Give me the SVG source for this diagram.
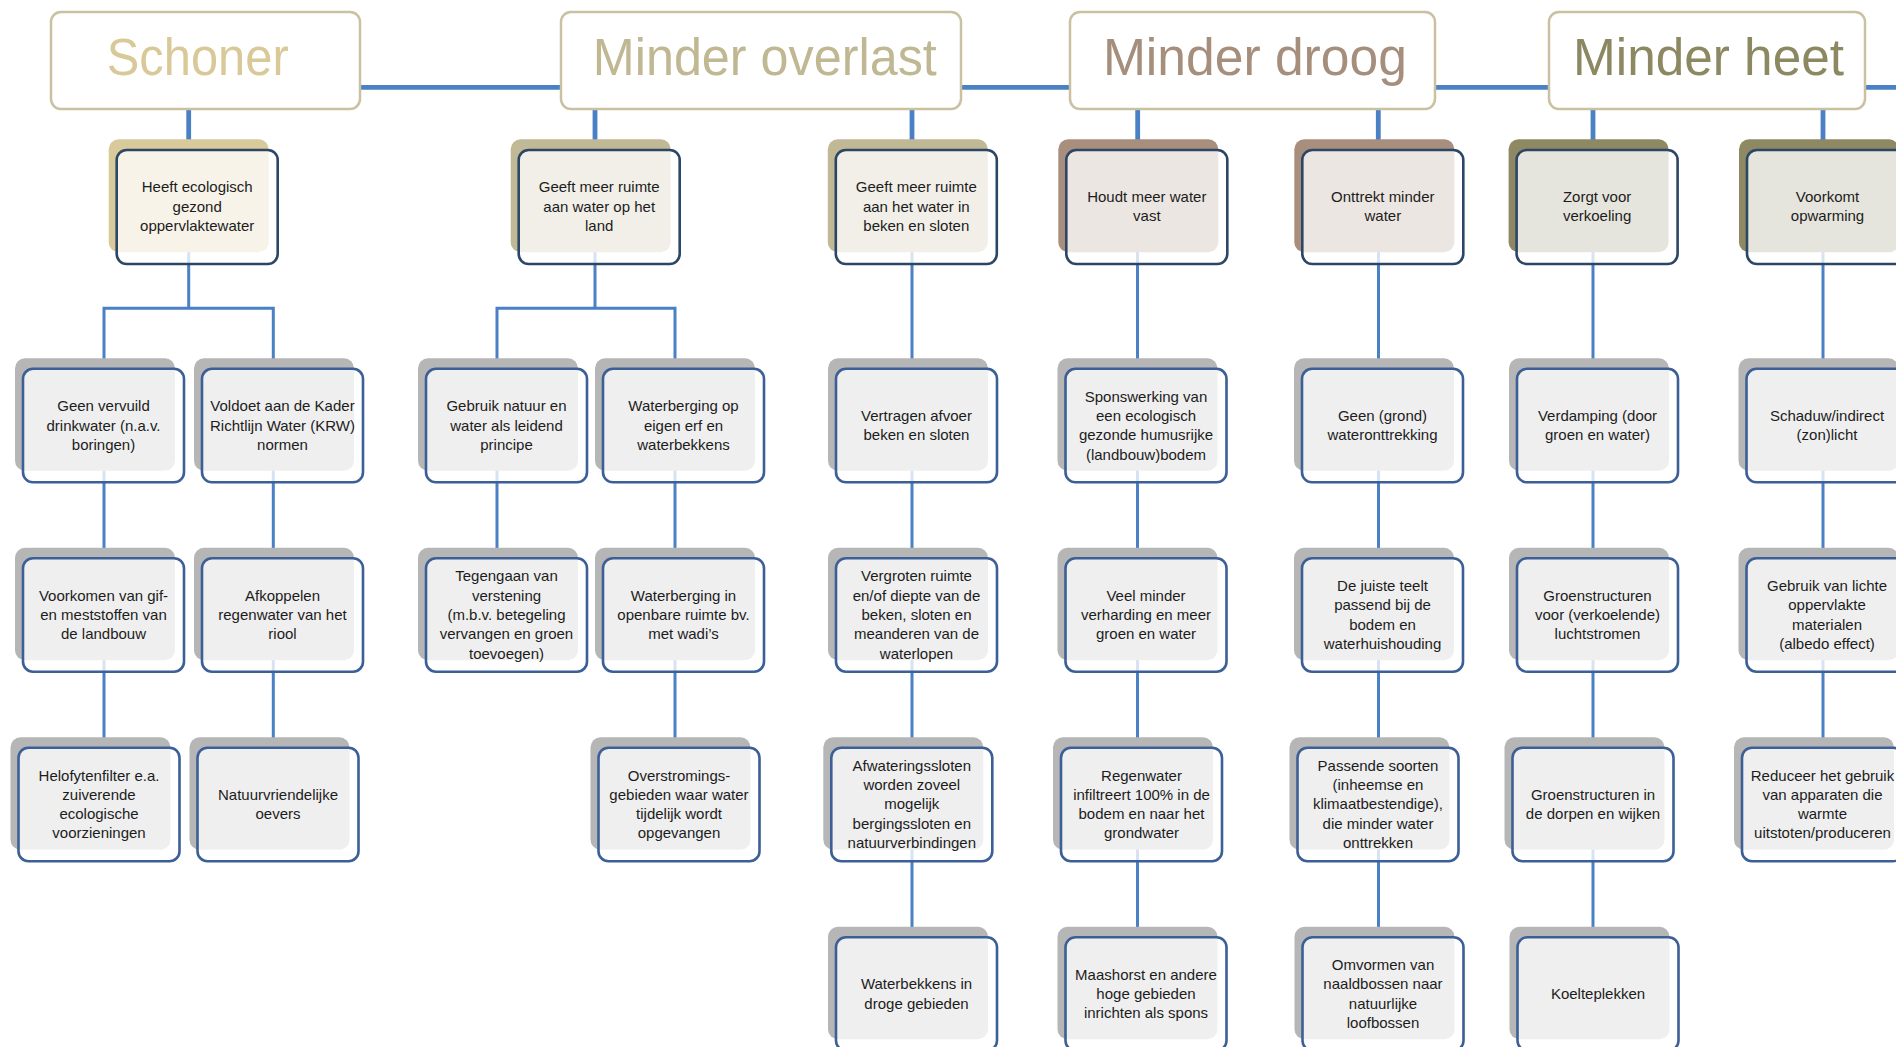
<svg xmlns="http://www.w3.org/2000/svg" width="1896" height="1047" viewBox="0 0 1896 1047">
<style>
.hdr rect{fill:#fff;stroke:#c9c1a1;stroke-width:2.5}
.hdr text{font-family:"Liberation Sans",Arial,sans-serif;font-size:51px;text-anchor:middle}
.n text{font-family:"Liberation Sans",Arial,sans-serif;font-size:15px;fill:#1c1c1c;text-anchor:middle}
.sh{fill:#b6b6b6}
.fr{fill:#fff;fill-opacity:.78;stroke:#3b5f96;stroke-width:2.6}
.l1 .fr{stroke:#2c4666}
.s-sch{fill:#d9ca9b}.s-ovl{fill:#c1b896}.s-drg{fill:#a88f7d}.s-heet{fill:#8e8963}
.conn{fill:none;stroke:#4a80c4}
.thin{stroke-width:3}
.thick{stroke-width:4.8}
</style>
<rect width="1896" height="1047" fill="#fff"/>
<g id="connectors">
<path class="conn thick" d="M300 87.3H1896M188.7 100V145M595 100V145M912 100V145M1137.7 100V145M1378.3 100V145M1593 100V145M1823 100V145"/>
<path class="conn thin" d="M104 370V308.3H273.3V370M188.7 200V308.3M497 370V308.3H675V370M595 200V308.3M104 420V800M273.3 420V800M497 420V600M675 420V800M912 200V990M1137.5 200V990M1378.5 200V990M1593 200V990M1823 200V800"/>
</g>
<g id="h-schoner" class="hdr"><rect x="51" y="12" width="309" height="97" rx="10"/><text x="197.7" y="75" fill="#d9c998" textLength="182" lengthAdjust="spacingAndGlyphs">Schoner</text></g>
<g id="h-overlast" class="hdr"><rect x="561" y="12" width="400" height="97" rx="10"/><text x="764.8" y="75" fill="#c0b793" textLength="344" lengthAdjust="spacingAndGlyphs">Minder overlast</text></g>
<g id="h-droog" class="hdr"><rect x="1070" y="12" width="365" height="97" rx="10"/><text x="1254.9" y="75" fill="#a58e7c" textLength="304" lengthAdjust="spacingAndGlyphs">Minder droog</text></g>
<g id="h-heet" class="hdr"><rect x="1549" y="12" width="316" height="97" rx="10"/><text x="1708.5" y="75" fill="#8c8862" textLength="271" lengthAdjust="spacingAndGlyphs">Minder heet</text></g>

<g id="l1-ecologisch" class="n l1" transform="translate(108.7,139.3)"><rect class="s-sch" width="160" height="113" rx="10"/><rect class="fr" x="8" y="10.7" width="161" height="114" rx="10"/><text x="88.5" y="53"><tspan x="88.5">Heeft ecologisch</tspan><tspan x="88.5" dy="19.3">gezond</tspan><tspan x="88.5" dy="19.3">oppervlaktewater</tspan></text></g>
<g id="l1-land" class="n l1" transform="translate(510.7,139.3)"><rect class="s-ovl" width="160" height="113" rx="10"/><rect class="fr" x="8" y="10.7" width="161" height="114" rx="10"/><text x="88.5" y="53"><tspan x="88.5">Geeft meer ruimte</tspan><tspan x="88.5" dy="19.3">aan water op het</tspan><tspan x="88.5" dy="19.3">land</tspan></text></g>
<g id="l1-beken" class="n l1" transform="translate(827.8,139.3)"><rect class="s-ovl" width="160" height="113" rx="10"/><rect class="fr" x="8" y="10.7" width="161" height="114" rx="10"/><text x="88.5" y="53"><tspan x="88.5">Geeft meer ruimte</tspan><tspan x="88.5" dy="19.3">aan het water in</tspan><tspan x="88.5" dy="19.3">beken en sloten</tspan></text></g>
<g id="l1-vast" class="n l1" transform="translate(1058.3,139.3)"><rect class="s-drg" width="160" height="113" rx="10"/><rect class="fr" x="8" y="10.7" width="161" height="114" rx="10"/><text x="88.5" y="62.65"><tspan x="88.5">Houdt meer water</tspan><tspan x="88.5" dy="19.3">vast</tspan></text></g>
<g id="l1-onttrekt" class="n l1" transform="translate(1294.3,139.3)"><rect class="s-drg" width="160" height="113" rx="10"/><rect class="fr" x="8" y="10.7" width="161" height="114" rx="10"/><text x="88.5" y="62.65"><tspan x="88.5">Onttrekt minder</tspan><tspan x="88.5" dy="19.3">water</tspan></text></g>
<g id="l1-verkoeling" class="n l1" transform="translate(1508.6,139.3)"><rect class="s-heet" width="160" height="113" rx="10"/><rect class="fr" x="8" y="10.7" width="161" height="114" rx="10"/><text x="88.5" y="62.65"><tspan x="88.5">Zorgt voor</tspan><tspan x="88.5" dy="19.3">verkoeling</tspan></text></g>
<g id="l1-opwarming" class="n l1" transform="translate(1739,139.3)"><rect class="s-heet" width="160" height="113" rx="10"/><rect class="fr" x="8" y="10.7" width="161" height="114" rx="10"/><text x="88.5" y="62.65"><tspan x="88.5">Voorkomt</tspan><tspan x="88.5" dy="19.3">opwarming</tspan></text></g>

<g id="r2-drinkwater" class="n" transform="translate(15,358.3)"><rect class="sh" width="160" height="112.5" rx="10"/><rect class="fr" x="8" y="10.5" width="161" height="113.5" rx="10"/><text x="88.5" y="53"><tspan x="88.5">Geen vervuild</tspan><tspan x="88.5" dy="19.3">drinkwater (n.a.v.</tspan><tspan x="88.5" dy="19.3">boringen)</tspan></text></g>
<g id="r2-krw" class="n" transform="translate(194,358.3)"><rect class="sh" width="160" height="112.5" rx="10"/><rect class="fr" x="8" y="10.5" width="161" height="113.5" rx="10"/><text x="88.5" y="53"><tspan x="88.5">Voldoet aan de Kader</tspan><tspan x="88.5" dy="19.3">Richtlijn Water (KRW)</tspan><tspan x="88.5" dy="19.3">normen</tspan></text></g>
<g id="r2-natuur" class="n" transform="translate(418,358.3)"><rect class="sh" width="160" height="112.5" rx="10"/><rect class="fr" x="8" y="10.5" width="161" height="113.5" rx="10"/><text x="88.5" y="53"><tspan x="88.5">Gebruik natuur en</tspan><tspan x="88.5" dy="19.3">water als leidend</tspan><tspan x="88.5" dy="19.3">principe</tspan></text></g>
<g id="r2-erf" class="n" transform="translate(595,358.3)"><rect class="sh" width="160" height="112.5" rx="10"/><rect class="fr" x="8" y="10.5" width="161" height="113.5" rx="10"/><text x="88.5" y="53"><tspan x="88.5">Waterberging op</tspan><tspan x="88.5" dy="19.3">eigen erf en</tspan><tspan x="88.5" dy="19.3">waterbekkens</tspan></text></g>
<g id="r2-afvoer" class="n" transform="translate(828,358.3)"><rect class="sh" width="160" height="112.5" rx="10"/><rect class="fr" x="8" y="10.5" width="161" height="113.5" rx="10"/><text x="88.5" y="62.65"><tspan x="88.5">Vertragen afvoer</tspan><tspan x="88.5" dy="19.3">beken en sloten</tspan></text></g>
<g id="r2-spons" class="n" transform="translate(1057.5,358.3)"><rect class="sh" width="160" height="112.5" rx="10"/><rect class="fr" x="8" y="10.5" width="161" height="113.5" rx="10"/><text x="88.5" y="43.35"><tspan x="88.5">Sponswerking van</tspan><tspan x="88.5" dy="19.3">een ecologisch</tspan><tspan x="88.5" dy="19.3">gezonde humusrijke</tspan><tspan x="88.5" dy="19.3">(landbouw)bodem</tspan></text></g>
<g id="r2-grond" class="n" transform="translate(1294,358.3)"><rect class="sh" width="160" height="112.5" rx="10"/><rect class="fr" x="8" y="10.5" width="161" height="113.5" rx="10"/><text x="88.5" y="62.65"><tspan x="88.5">Geen (grond)</tspan><tspan x="88.5" dy="19.3">wateronttrekking</tspan></text></g>
<g id="r2-verdamping" class="n" transform="translate(1509,358.3)"><rect class="sh" width="160" height="112.5" rx="10"/><rect class="fr" x="8" y="10.5" width="161" height="113.5" rx="10"/><text x="88.5" y="62.65"><tspan x="88.5">Verdamping (door</tspan><tspan x="88.5" dy="19.3">groen en water)</tspan></text></g>
<g id="r2-schaduw" class="n" transform="translate(1738.5,358.3)"><rect class="sh" width="160" height="112.5" rx="10"/><rect class="fr" x="8" y="10.5" width="161" height="113.5" rx="10"/><text x="88.5" y="62.65"><tspan x="88.5">Schaduw/indirect</tspan><tspan x="88.5" dy="19.3">(zon)licht</tspan></text></g>

<g id="r3-gif" class="n" transform="translate(15,547.7)"><rect class="sh" width="160" height="112.5" rx="10"/><rect class="fr" x="8" y="10.5" width="161" height="113.5" rx="10"/><text x="88.5" y="53"><tspan x="88.5">Voorkomen van gif-</tspan><tspan x="88.5" dy="19.3">en meststoffen van</tspan><tspan x="88.5" dy="19.3">de landbouw</tspan></text></g>
<g id="r3-afkoppelen" class="n" transform="translate(194,547.7)"><rect class="sh" width="160" height="112.5" rx="10"/><rect class="fr" x="8" y="10.5" width="161" height="113.5" rx="10"/><text x="88.5" y="53"><tspan x="88.5">Afkoppelen</tspan><tspan x="88.5" dy="19.3">regenwater van het</tspan><tspan x="88.5" dy="19.3">riool</tspan></text></g>
<g id="r3-verstening" class="n" transform="translate(418,547.7)"><rect class="sh" width="160" height="112.5" rx="10"/><rect class="fr" x="8" y="10.5" width="161" height="113.5" rx="10"/><text x="88.5" y="33.7"><tspan x="88.5">Tegengaan van</tspan><tspan x="88.5" dy="19.3">verstening</tspan><tspan x="88.5" dy="19.3">(m.b.v. betegeling</tspan><tspan x="88.5" dy="19.3">vervangen en groen</tspan><tspan x="88.5" dy="19.3">toevoegen)</tspan></text></g>
<g id="r3-wadi" class="n" transform="translate(595,547.7)"><rect class="sh" width="160" height="112.5" rx="10"/><rect class="fr" x="8" y="10.5" width="161" height="113.5" rx="10"/><text x="88.5" y="53"><tspan x="88.5">Waterberging in</tspan><tspan x="88.5" dy="19.3">openbare ruimte bv.</tspan><tspan x="88.5" dy="19.3">met wadi’s</tspan></text></g>
<g id="r3-vergroten" class="n" transform="translate(828,547.7)"><rect class="sh" width="160" height="112.5" rx="10"/><rect class="fr" x="8" y="10.5" width="161" height="113.5" rx="10"/><text x="88.5" y="33.7"><tspan x="88.5">Vergroten ruimte</tspan><tspan x="88.5" dy="19.3">en/of diepte van de</tspan><tspan x="88.5" dy="19.3">beken, sloten en</tspan><tspan x="88.5" dy="19.3">meanderen van de</tspan><tspan x="88.5" dy="19.3">waterlopen</tspan></text></g>
<g id="r3-verharding" class="n" transform="translate(1057.5,547.7)"><rect class="sh" width="160" height="112.5" rx="10"/><rect class="fr" x="8" y="10.5" width="161" height="113.5" rx="10"/><text x="88.5" y="53"><tspan x="88.5">Veel minder</tspan><tspan x="88.5" dy="19.3">verharding en meer</tspan><tspan x="88.5" dy="19.3">groen en water</tspan></text></g>
<g id="r3-teelt" class="n" transform="translate(1294,547.7)"><rect class="sh" width="160" height="112.5" rx="10"/><rect class="fr" x="8" y="10.5" width="161" height="113.5" rx="10"/><text x="88.5" y="43.35"><tspan x="88.5">De juiste teelt</tspan><tspan x="88.5" dy="19.3">passend bij de</tspan><tspan x="88.5" dy="19.3">bodem en</tspan><tspan x="88.5" dy="19.3">waterhuishouding</tspan></text></g>
<g id="r3-luchtstromen" class="n" transform="translate(1509,547.7)"><rect class="sh" width="160" height="112.5" rx="10"/><rect class="fr" x="8" y="10.5" width="161" height="113.5" rx="10"/><text x="88.5" y="53"><tspan x="88.5">Groenstructuren</tspan><tspan x="88.5" dy="19.3">voor (verkoelende)</tspan><tspan x="88.5" dy="19.3">luchtstromen</tspan></text></g>
<g id="r3-albedo" class="n" transform="translate(1738.5,547.7)"><rect class="sh" width="160" height="112.5" rx="10"/><rect class="fr" x="8" y="10.5" width="161" height="113.5" rx="10"/><text x="88.5" y="43.35"><tspan x="88.5">Gebruik van lichte</tspan><tspan x="88.5" dy="19.3">oppervlakte</tspan><tspan x="88.5" dy="19.3">materialen</tspan><tspan x="88.5" dy="19.3">(albedo effect)</tspan></text></g>

<g id="r4-helofyten" class="n" transform="translate(10.5,737.2)"><rect class="sh" width="160" height="112.5" rx="10"/><rect class="fr" x="8" y="10.5" width="161" height="113.5" rx="10"/><text x="88.5" y="43.35"><tspan x="88.5">Helofytenfilter e.a.</tspan><tspan x="88.5" dy="19.3">zuiverende</tspan><tspan x="88.5" dy="19.3">ecologische</tspan><tspan x="88.5" dy="19.3">voorzieningen</tspan></text></g>
<g id="r4-oevers" class="n" transform="translate(189.5,737.2)"><rect class="sh" width="160" height="112.5" rx="10"/><rect class="fr" x="8" y="10.5" width="161" height="113.5" rx="10"/><text x="88.5" y="62.65"><tspan x="88.5">Natuurvriendelijke</tspan><tspan x="88.5" dy="19.3">oevers</tspan></text></g>
<g id="r4-overstroming" class="n" transform="translate(590.5,737.2)"><rect class="sh" width="160" height="112.5" rx="10"/><rect class="fr" x="8" y="10.5" width="161" height="113.5" rx="10"/><text x="88.5" y="43.35"><tspan x="88.5">Overstromings-</tspan><tspan x="88.5" dy="19.3">gebieden waar water</tspan><tspan x="88.5" dy="19.3">tijdelijk wordt</tspan><tspan x="88.5" dy="19.3">opgevangen</tspan></text></g>
<g id="r4-afwatering" class="n" transform="translate(823.3,737.2)"><rect class="sh" width="160" height="112.5" rx="10"/><rect class="fr" x="8" y="10.5" width="161" height="113.5" rx="10"/><text x="88.5" y="33.7"><tspan x="88.5">Afwateringssloten</tspan><tspan x="88.5" dy="19.3">worden zoveel</tspan><tspan x="88.5" dy="19.3">mogelijk</tspan><tspan x="88.5" dy="19.3">bergingssloten en</tspan><tspan x="88.5" dy="19.3">natuurverbindingen</tspan></text></g>
<g id="r4-regenwater" class="n" transform="translate(1053,737.2)"><rect class="sh" width="160" height="112.5" rx="10"/><rect class="fr" x="8" y="10.5" width="161" height="113.5" rx="10"/><text x="88.5" y="43.35"><tspan x="88.5">Regenwater</tspan><tspan x="88.5" dy="19.3">infiltreert 100% in de</tspan><tspan x="88.5" dy="19.3">bodem en naar het</tspan><tspan x="88.5" dy="19.3">grondwater</tspan></text></g>
<g id="r4-soorten" class="n" transform="translate(1289.5,737.2)"><rect class="sh" width="160" height="112.5" rx="10"/><rect class="fr" x="8" y="10.5" width="161" height="113.5" rx="10"/><text x="88.5" y="33.7"><tspan x="88.5">Passende soorten</tspan><tspan x="88.5" dy="19.3">(inheemse en</tspan><tspan x="88.5" dy="19.3">klimaatbestendige),</tspan><tspan x="88.5" dy="19.3">die minder water</tspan><tspan x="88.5" dy="19.3">onttrekken</tspan></text></g>
<g id="r4-dorpen" class="n" transform="translate(1504.5,737.2)"><rect class="sh" width="160" height="112.5" rx="10"/><rect class="fr" x="8" y="10.5" width="161" height="113.5" rx="10"/><text x="88.5" y="62.65"><tspan x="88.5">Groenstructuren in</tspan><tspan x="88.5" dy="19.3">de dorpen en wijken</tspan></text></g>
<g id="r4-apparaten" class="n" transform="translate(1734,737.2)"><rect class="sh" width="160" height="112.5" rx="10"/><rect class="fr" x="8" y="10.5" width="161" height="113.5" rx="10"/><text x="88.5" y="43.35"><tspan x="88.5">Reduceer het gebruik</tspan><tspan x="88.5" dy="19.3">van apparaten die</tspan><tspan x="88.5" dy="19.3">warmte</tspan><tspan x="88.5" dy="19.3">uitstoten/produceren</tspan></text></g>

<g id="r5-waterbekkens" class="n" transform="translate(828,926.7)"><rect class="sh" width="160" height="112.5" rx="10"/><rect class="fr" x="8" y="10.5" width="161" height="113.5" rx="10"/><text x="88.5" y="62.65"><tspan x="88.5">Waterbekkens in</tspan><tspan x="88.5" dy="19.3">droge gebieden</tspan></text></g>
<g id="r5-maashorst" class="n" transform="translate(1057.5,926.7)"><rect class="sh" width="160" height="112.5" rx="10"/><rect class="fr" x="8" y="10.5" width="161" height="113.5" rx="10"/><text x="88.5" y="53"><tspan x="88.5">Maashorst en andere</tspan><tspan x="88.5" dy="19.3">hoge gebieden</tspan><tspan x="88.5" dy="19.3">inrichten als spons</tspan></text></g>
<g id="r5-loofbossen" class="n" transform="translate(1294.5,926.7)"><rect class="sh" width="160" height="112.5" rx="10"/><rect class="fr" x="8" y="10.5" width="161" height="113.5" rx="10"/><text x="88.5" y="43.35"><tspan x="88.5">Omvormen van</tspan><tspan x="88.5" dy="19.3">naaldbossen naar</tspan><tspan x="88.5" dy="19.3">natuurlijke</tspan><tspan x="88.5" dy="19.3">loofbossen</tspan></text></g>
<g id="r5-koelteplekken" class="n" transform="translate(1509.5,926.7)"><rect class="sh" width="160" height="112.5" rx="10"/><rect class="fr" x="8" y="10.5" width="161" height="113.5" rx="10"/><text x="88.5" y="72.3">Koelteplekken</text></g>
</svg>
